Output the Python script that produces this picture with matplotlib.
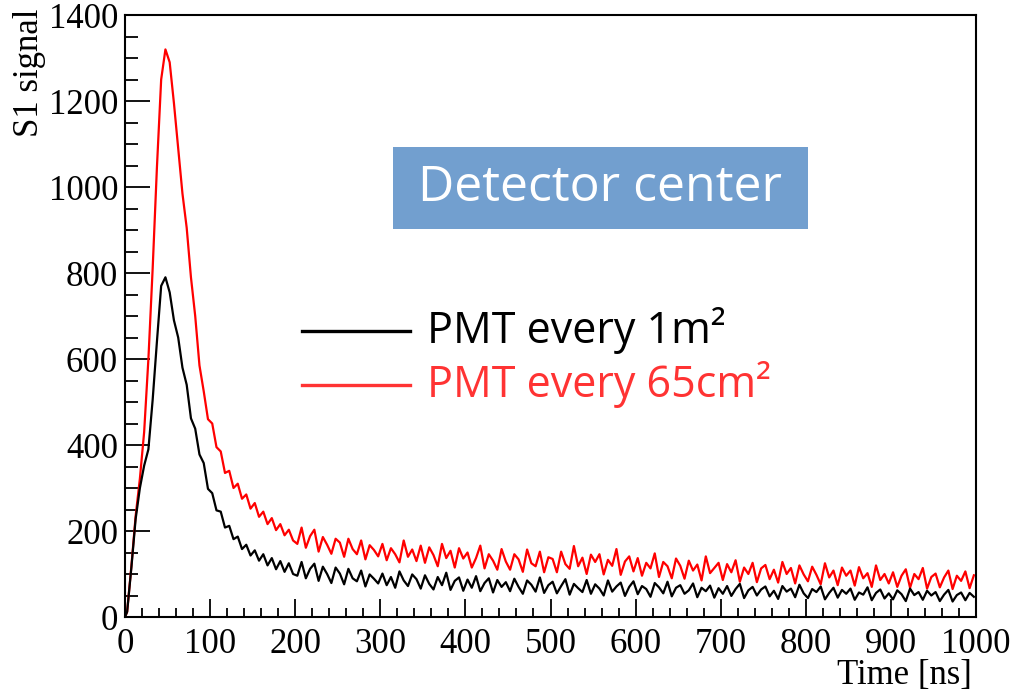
import matplotlib
matplotlib.use("Agg")
import matplotlib.pyplot as plt
from matplotlib.patches import Rectangle
from matplotlib.lines import Line2D
from matplotlib.ticker import MultipleLocator

# ---- data (5 ns bins, bin centres) ----
time_ns = [2.5 + 5 * k for k in range(200)]

signal_1m2 = [
    12, 115, 228, 300, 352, 390, 505, 640, 770, 790,
    755, 690, 650, 580, 540, 462, 438, 378, 358, 298,
    288, 248, 245, 208, 212, 181, 187, 158, 168, 143,
    155, 131, 146, 120, 137, 111, 130, 105, 125, 100,
    96, 128, 90, 112, 124, 84, 117, 100, 79, 115,
    101, 76, 112, 90, 83, 108, 71, 99, 89, 78,
    101, 74, 93, 68, 106, 85, 72, 99, 88, 66,
    97, 77, 64, 93, 74, 103, 63, 84, 92, 61,
    87, 68, 95, 60, 79, 90, 57, 86, 70, 81,
    60, 89, 70, 54, 85, 75, 59, 92, 56, 74,
    82, 55, 72, 88, 52, 77, 67, 58, 86, 54,
    76, 66, 50, 85, 59, 71, 80, 49, 70, 83,
    53, 72, 65, 47, 79, 69, 55, 82, 48, 68,
    74, 54, 62, 78, 46, 68, 60, 73, 45, 67,
    54, 72, 49, 65, 77, 44, 62, 70, 50, 64,
    71, 48, 61, 42, 72, 59, 66, 46, 75, 55,
    44, 65, 58, 71, 41, 56, 68, 45, 63, 54,
    66, 40, 57, 52, 69, 39, 56, 64, 43, 55,
    41, 62, 53, 37, 66, 51, 58, 40, 61, 50,
    58, 37, 52, 63, 36, 51, 57, 39, 56, 47,
]

signal_65cm2 = [
    12, 118, 235, 322, 430, 600, 810, 1045, 1250, 1320,
    1290, 1195, 1090, 985, 905, 790, 700, 585, 525, 460,
    450, 395, 385, 335, 340, 300, 310, 275, 285, 252,
    265, 233, 245, 216, 230, 202, 216, 190, 203, 178,
    170, 208, 161, 188, 203, 152, 186, 168, 147, 182,
    173, 140, 182, 158, 146, 178, 134, 167, 156, 141,
    170, 132, 160, 146, 127, 178, 140, 157, 130, 166,
    126, 162, 144, 118, 170, 137, 154, 115, 160, 136,
    150, 115, 137, 166, 113, 146, 131, 110, 158, 129,
    110, 146, 134, 105, 157, 125, 118, 152, 104, 139,
    135, 104, 152, 123, 112, 165, 118, 138, 100, 145,
    128, 146, 99, 133, 119, 158, 98, 129, 141, 106,
    137, 96, 126, 113, 148, 93, 128, 118, 90, 136,
    119, 89, 131, 108, 122, 85, 141, 102, 114, 126,
    86, 123, 104, 132, 82, 115, 100, 126, 81, 113,
    121, 88, 110, 80, 128, 100, 114, 78, 120, 99,
    83, 117, 98, 76, 125, 92, 108, 74, 115, 96,
    108, 73, 116, 90, 102, 70, 120, 86, 100, 78,
    104, 70, 96, 111, 68, 100, 88, 114, 66, 93,
    101, 69, 92, 108, 65, 96, 84, 106, 67, 97,
]

series_labels = ["PMT every 1m²", "PMT every 65cm²"]
title_box_text = "Detector center"
x_label = "Time [ns]"
y_label = "S1 signal"

# ---- figure ----
fig = plt.figure(figsize=(10.23, 6.93), dpi=100)
ax = fig.add_axes([125 / 1023, 1 - 617 / 693, 851 / 1023, 602 / 693])

ax.plot([0] + time_ns, [0] + signal_65cm2, color="#ff0000", lw=1.6)
ax.plot([0] + time_ns, [0] + signal_1m2, color="#000000", lw=1.6)

ax.set_xlim(0, 1000)
ax.set_ylim(0, 1400)

serif = "Liberation Serif"
ax.xaxis.set_major_locator(MultipleLocator(100))
ax.xaxis.set_minor_locator(MultipleLocator(20))
ax.yaxis.set_major_locator(MultipleLocator(200))
ax.yaxis.set_minor_locator(MultipleLocator(50))
ax.tick_params(axis="x", which="major", direction="in", length=13, width=1.3,
               pad=8, top=False, labelsize=25)
ax.tick_params(axis="x", which="minor", direction="in", length=6.5, width=1.3, top=False)
ax.tick_params(axis="y", which="major", direction="in", length=18, width=1.3,
               pad=5, right=False, labelsize=25)
ax.tick_params(axis="y", which="minor", direction="in", length=9, width=1.3, right=False)
for lab in ax.get_xticklabels() + ax.get_yticklabels():
    lab.set_family(serif)
for sp in ax.spines.values():
    sp.set_linewidth(1.5)

ax.text(0.995, -0.07, x_label, transform=ax.transAxes, ha="right", va="top",
        fontsize=25, family=serif)
ax.text(-0.112, 1.01, y_label, transform=ax.transAxes, ha="center", va="top",
        rotation=90, fontsize=25, family=serif)

# title box
ax.add_patch(Rectangle((268 / 851, (617 - 229) / 602), 415 / 851, 82 / 602,
                       transform=ax.transAxes, facecolor="#729fcf",
                       edgecolor="none", zorder=5))
ax.text((600.5 - 125) / 851, (617 - 188) / 602, title_box_text,
        transform=ax.transAxes, ha="center", va="center", color="white",
        fontsize=36, family="Open Sans", zorder=6)

# legend (manual, ROOT-like)
legend_colors = ["#000000", "#ff3333"]
legend_y = [(617 - 331) / 602, (617 - 385) / 602]
for lab, col, yy in zip(series_labels, legend_colors, legend_y):
    ax.add_line(Line2D([(302 - 125) / 851, (410 - 125) / 851], [yy, yy],
                       transform=ax.transAxes, color=col, lw=2.4, zorder=6))
    ax.text((427 - 125) / 851, yy, lab, transform=ax.transAxes, ha="left",
            va="center", color=col, fontsize=31, family="Open Sans", zorder=6)

fig.savefig("out.png", dpi=100)
